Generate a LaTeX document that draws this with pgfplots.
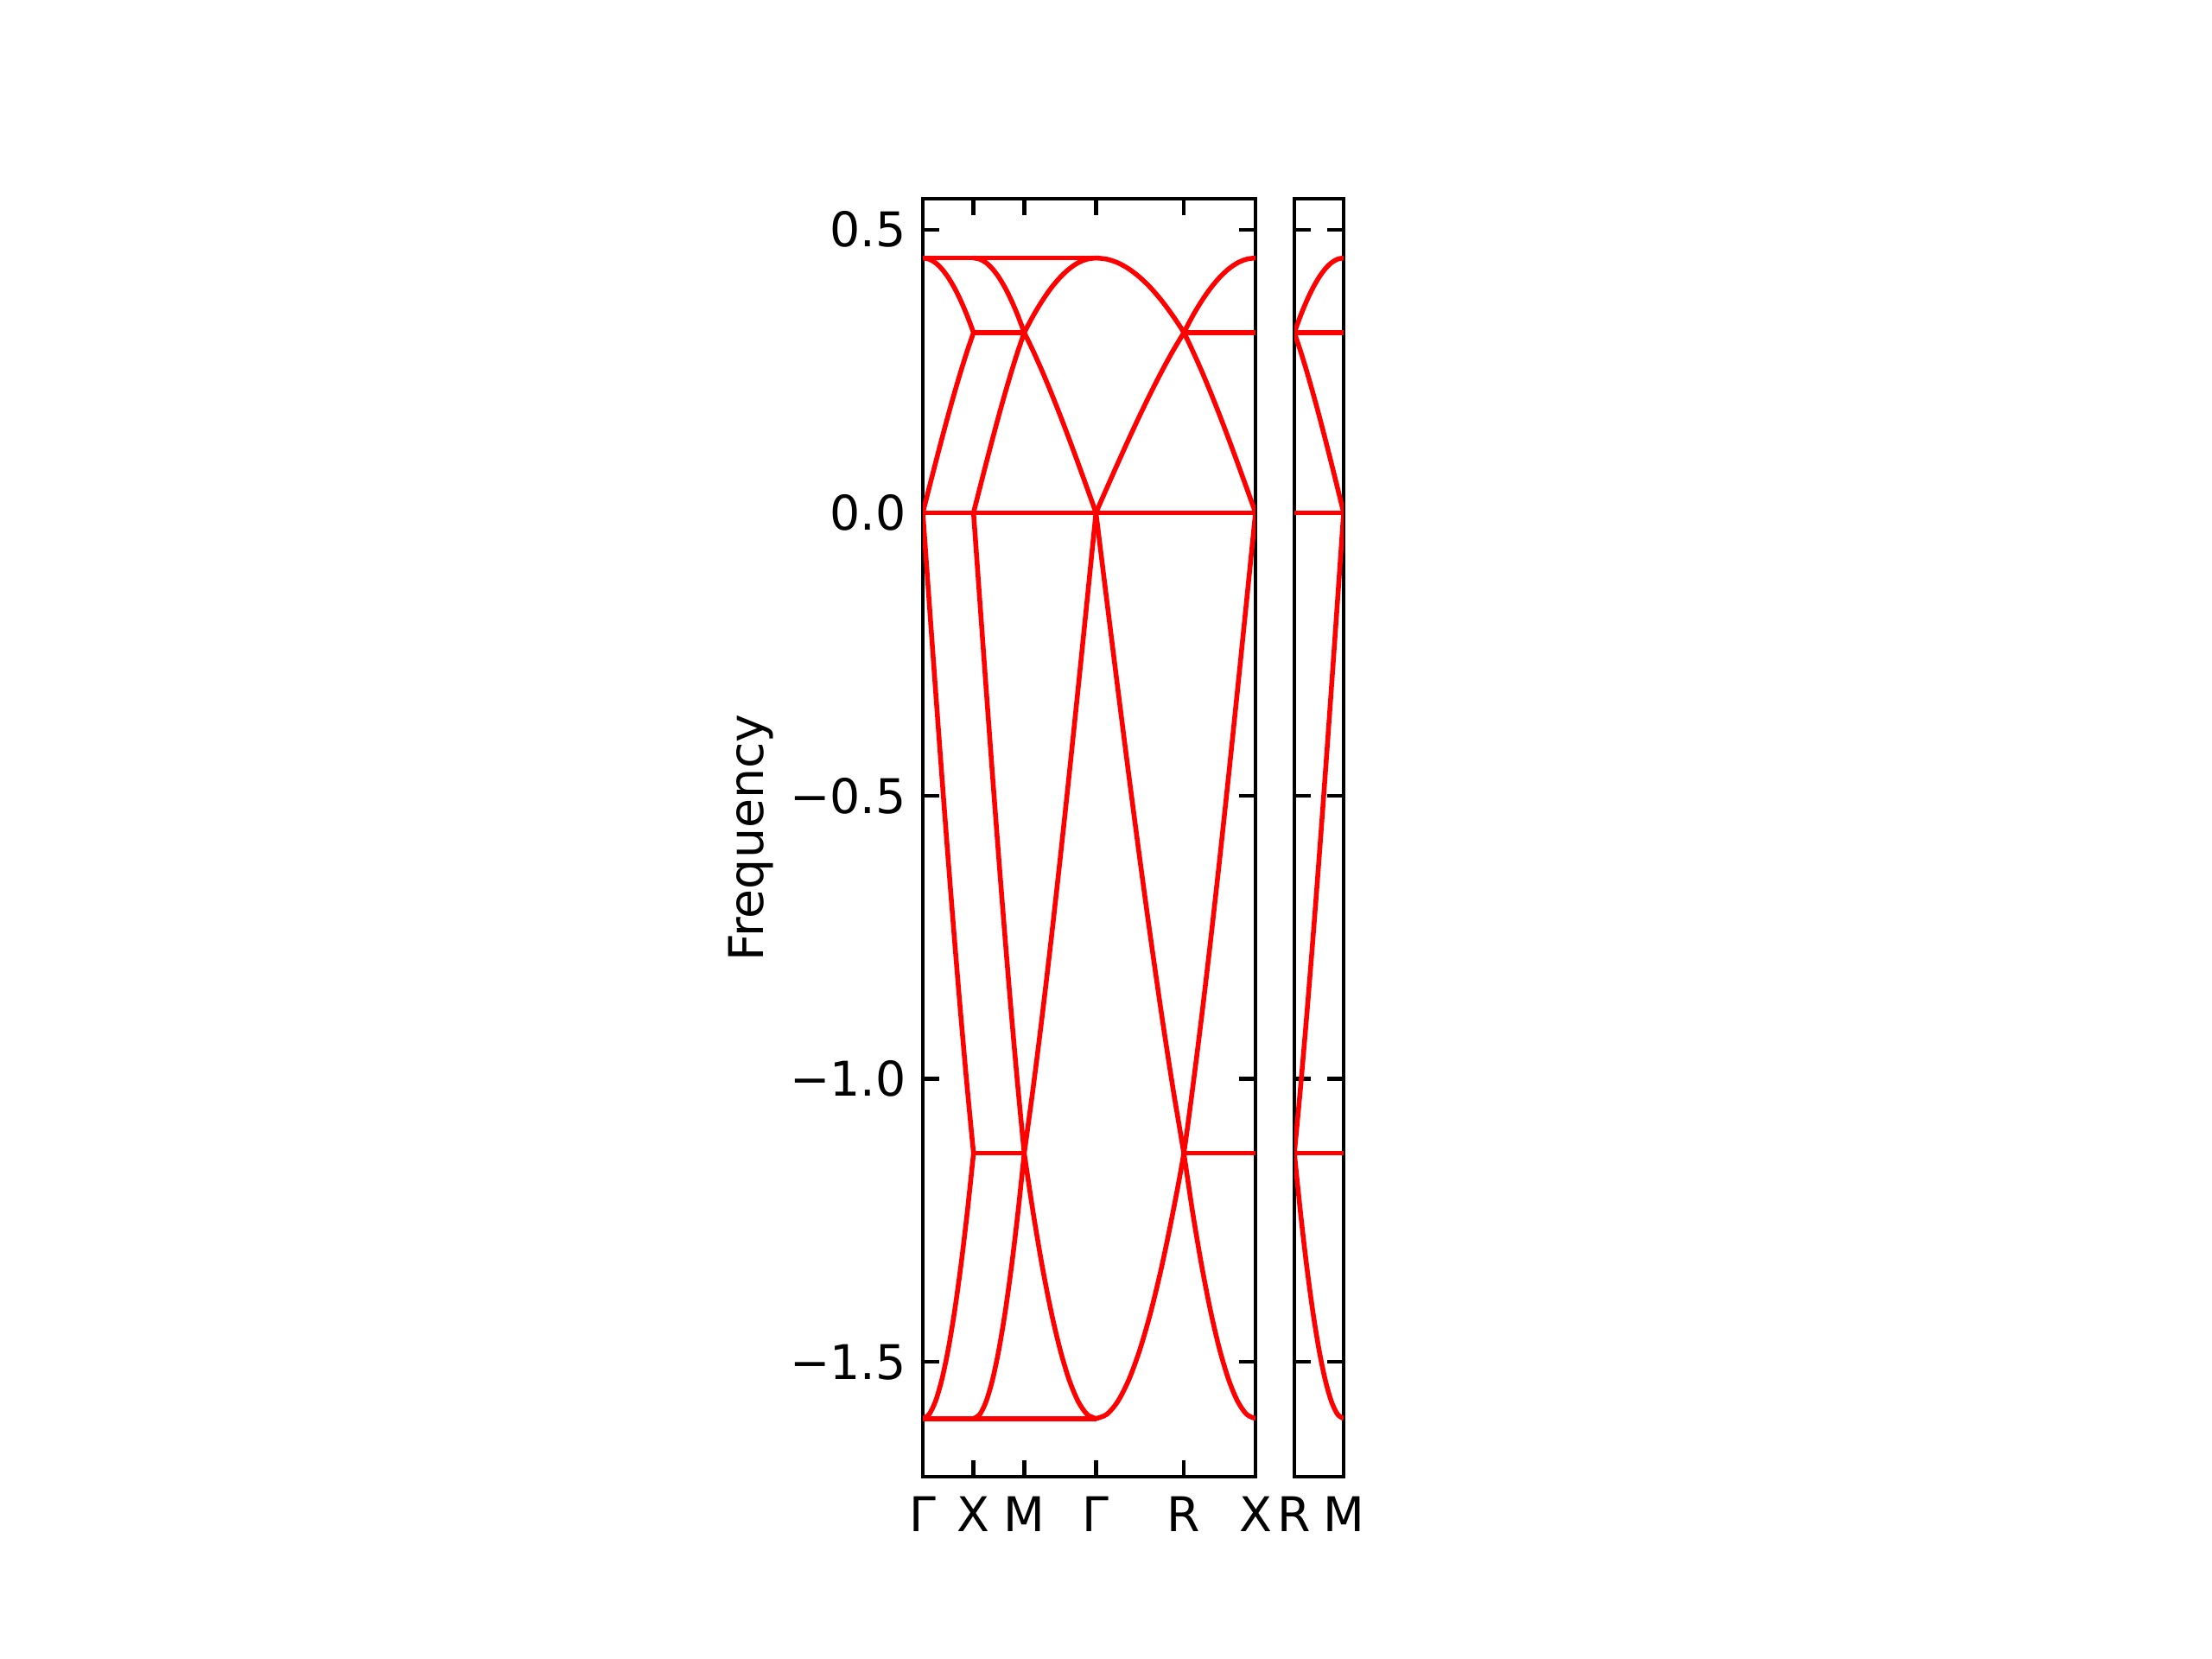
\documentclass[border=0pt]{standalone}
\usepackage{fontspec}
\setmainfont{DejaVu Sans}
\usepackage{pgfplots}
\pgfplotsset{compat=1.18}
\pgfplotsset{
  band/.style={color=red, line width=1pt, smooth, tension=0.5},
  bandaxis/.style={
    scale only axis,
    anchor=south west,
    height=3.6975in,
    ymin=-1.7026, ymax=0.5546,
    tick align=inside,
    xtick pos=both, ytick pos=both,
    major tick length=3.5pt,
    every tick/.style={black, line width=0.8pt},
    axis line style={line width=0.8pt},
    ytick={-1.5,-1,-0.5,0,0.5},
    tick label style={font=\fontsize{10}{12}\selectfont},
    xticklabel style={yshift=-0.6pt},
    label style={font=\fontsize{10}{12}\selectfont},
  },
}
\begin{document}
\begin{tikzpicture}
\path[use as bounding box] (0,0) rectangle (6.4in,4.8in);
% main panel
\begin{axis}[bandaxis,
  at={(2.67in,0.5275in)}, width=0.9625in,
  xmin=0, xmax=6.5605,
  xtick={0,1,2,3.4142,5.1463,6.5605},
  xticklabels={Γ,X,M,Γ,R,X},
  yticklabels={−1.5,−1.0,−0.5,0.0,0.5},
  ylabel={Frequency},
  ylabel style={at={(axis description cs:-0.517,0.5)}, anchor=center},
]
% flat bands
\addplot[band] coordinates {(0,0.45)(3.4142,0.45)};
\addplot[band] coordinates {(0,0)(6.5605,0)};
\addplot[band] coordinates {(0,-1.6)(3.4142,-1.6)};
\addplot[band] coordinates {(1,0.3182)(2,0.3182)};
\addplot[band] coordinates {(5.1463,0.3182)(6.5605,0.3182)};
\addplot[band] coordinates {(1,-1.1314)(2,-1.1314)};
\addplot[band] coordinates {(5.1463,-1.1314)(6.5605,-1.1314)};
% upper bands
\addplot[band] coordinates {(0,0.4500)(0.125,0.4478)(0.25,0.4414)(0.375,0.4306)(0.5,0.4157)(0.625,0.3969)(0.75,0.3742)(0.875,0.3479)(1,0.3182)};
\addplot[band] coordinates {(0,0)(0.125,0.0441)(0.25,0.0878)(0.375,0.1306)(0.5,0.1722)(0.625,0.2121)(0.75,0.2500)(0.875,0.2855)(1,0.3182)};
\addplot[band] coordinates {(1,0.4500)(1.125,0.4478)(1.25,0.4414)(1.375,0.4306)(1.5,0.4157)(1.625,0.3969)(1.75,0.3742)(1.875,0.3479)(2,0.3182)};
\addplot[band] coordinates {(1,0)(1.125,0.0441)(1.25,0.0878)(1.375,0.1306)(1.5,0.1722)(1.625,0.2121)(1.75,0.2500)(1.875,0.2855)(2,0.3182)};
\addplot[band] coordinates {(2,0.3182)(2.1768,0.3479)(2.3536,0.3742)(2.5303,0.3969)(2.7071,0.4157)(2.8839,0.4306)(3.0607,0.4414)(3.2374,0.4478)(3.4142,0.4500)};
\addplot[band] coordinates {(2,0.3182)(2.1768,0.2855)(2.3536,0.2500)(2.5303,0.2121)(2.7071,0.1722)(2.8839,0.1306)(3.0607,0.0878)(3.2374,0.0441)(3.4142,0)};
\addplot[band] coordinates {(3.4142,0.4500)(3.6307,0.4478)(3.8472,0.4414)(4.0637,0.4306)(4.2802,0.4157)(4.4967,0.3969)(4.7132,0.3742)(4.9298,0.3479)(5.1463,0.3182)(5.3230,0.2855)(5.4998,0.2500)(5.6766,0.2121)(5.8534,0.1722)(6.0301,0.1306)(6.2069,0.0878)(6.3837,0.0441)(6.5605,0)};
\addplot[band] coordinates {(3.4142,0)(3.6307,0.0441)(3.8472,0.0878)(4.0637,0.1306)(4.2802,0.1722)(4.4967,0.2121)(4.7132,0.2500)(4.9298,0.2855)(5.1463,0.3182)(5.3230,0.3479)(5.4998,0.3742)(5.6766,0.3969)(5.8534,0.4157)(6.0301,0.4306)(6.2069,0.4414)(6.3837,0.4478)(6.5605,0.4500)};
% lower bands
\addplot[band] coordinates {(0,-1.6000)(0.125,-1.5923)(0.25,-1.5693)(0.375,-1.5311)(0.5,-1.4782)(0.625,-1.4111)(0.75,-1.3304)(0.875,-1.2368)(1,-1.1314)};
\addplot[band] coordinates {(0,0)(0.125,-0.1568)(0.25,-0.3121)(0.375,-0.4645)(0.5,-0.6123)(0.625,-0.7542)(0.75,-0.8889)(0.875,-1.0150)(1,-1.1314)};
\addplot[band] coordinates {(1,-1.6000)(1.125,-1.5923)(1.25,-1.5693)(1.375,-1.5311)(1.5,-1.4782)(1.625,-1.4111)(1.75,-1.3304)(1.875,-1.2368)(2,-1.1314)};
\addplot[band] coordinates {(1,0)(1.125,-0.1568)(1.25,-0.3121)(1.375,-0.4645)(1.5,-0.6123)(1.625,-0.7542)(1.75,-0.8889)(1.875,-1.0150)(2,-1.1314)};
\addplot[band] coordinates {(2,-1.1314)(2.1768,-1.2368)(2.3536,-1.3304)(2.5303,-1.4111)(2.7071,-1.4782)(2.8839,-1.5311)(3.0607,-1.5693)(3.2374,-1.5923)(3.4142,-1.6000)};
\addplot[band] coordinates {(2,-1.1314)(2.1768,-1.0150)(2.3536,-0.8889)(2.5303,-0.7542)(2.7071,-0.6123)(2.8839,-0.4645)(3.0607,-0.3121)(3.2374,-0.1568)(3.4142,0)};
\addplot[band] coordinates {(3.4142,-1.6000)(3.6307,-1.5923)(3.8472,-1.5693)(4.0637,-1.5311)(4.2802,-1.4782)(4.4967,-1.4111)(4.7132,-1.3304)(4.9298,-1.2368)(5.1463,-1.1314)(5.3230,-1.0150)(5.4998,-0.8889)(5.6766,-0.7542)(5.8534,-0.6123)(6.0301,-0.4645)(6.2069,-0.3121)(6.3837,-0.1568)(6.5605,0)};
\addplot[band] coordinates {(3.4142,0)(3.6307,-0.1568)(3.8472,-0.3121)(4.0637,-0.4645)(4.2802,-0.6123)(4.4967,-0.7542)(4.7132,-0.8889)(4.9298,-1.0150)(5.1463,-1.1314)(5.3230,-1.2368)(5.4998,-1.3304)(5.6766,-1.4111)(5.8534,-1.4782)(6.0301,-1.5311)(6.2069,-1.5693)(6.3837,-1.5923)(6.5605,-1.6000)};
\end{axis}
% second panel
\begin{axis}[bandaxis,
  at={(3.745in,0.5275in)}, width=0.1425in,
  xmin=0, xmax=1,
  xtick={0,1},
  xticklabels={R,M},
  yticklabels={},
]
\addplot[band] coordinates {(0,0.3182)(1,0.3182)};
\addplot[band] coordinates {(0,0)(1,0)};
\addplot[band] coordinates {(0,-1.1314)(1,-1.1314)};
\addplot[band] coordinates {(0,0.3182)(0.125,0.3479)(0.25,0.3742)(0.375,0.3969)(0.5,0.4157)(0.625,0.4306)(0.75,0.4414)(0.875,0.4478)(1,0.4500)};
\addplot[band] coordinates {(0,0.3182)(0.125,0.2855)(0.25,0.2500)(0.375,0.2121)(0.5,0.1722)(0.625,0.1306)(0.75,0.0878)(0.875,0.0441)(1,0)};
\addplot[band] coordinates {(0,-1.1314)(0.125,-1.0150)(0.25,-0.8889)(0.375,-0.7542)(0.5,-0.6123)(0.625,-0.4645)(0.75,-0.3121)(0.875,-0.1568)(1,0)};
\addplot[band] coordinates {(0,-1.1314)(0.125,-1.2368)(0.25,-1.3304)(0.375,-1.4111)(0.5,-1.4782)(0.625,-1.5311)(0.75,-1.5693)(0.875,-1.5923)(1,-1.6000)};
\end{axis}
\end{tikzpicture}
\end{document}
